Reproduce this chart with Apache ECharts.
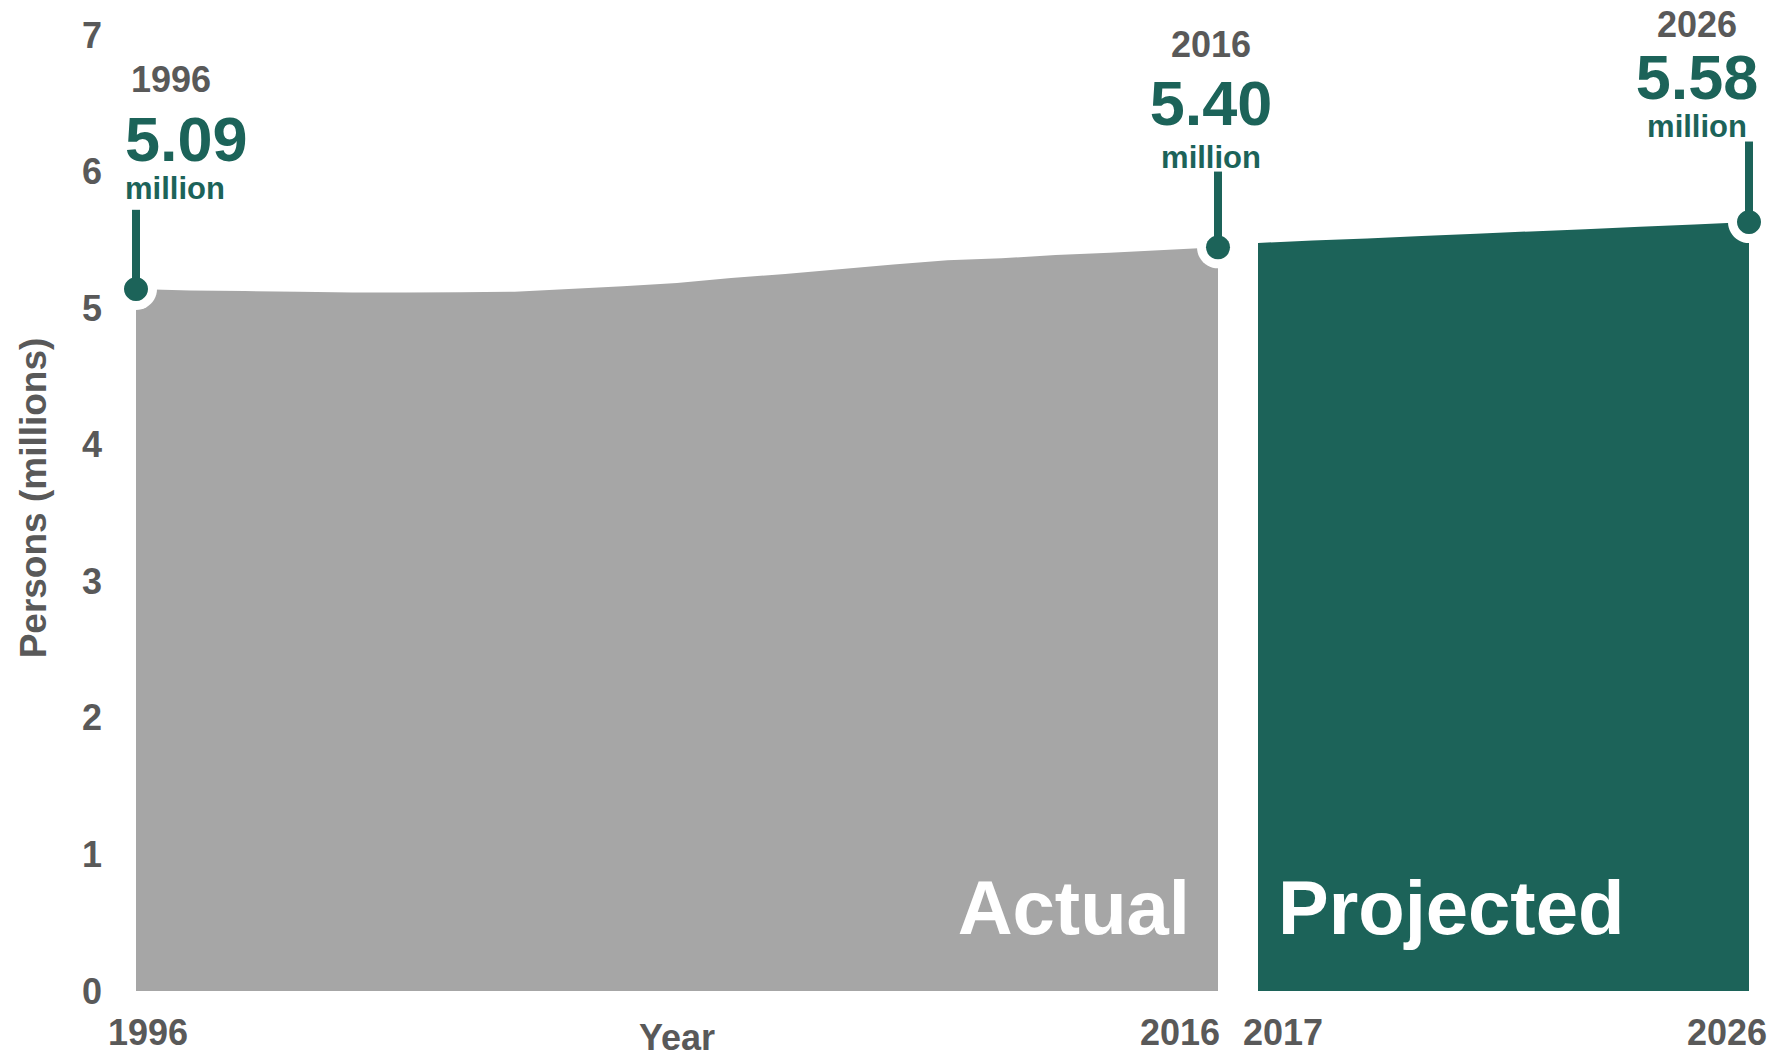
<!DOCTYPE html>
<html>
<head>
<meta charset="utf-8">
<script src="https://cdn.jsdelivr.net/npm/echarts@6/dist/echarts.min.js"></script>
<style>
html,body{margin:0;padding:0;background:#fff;}
#c{width:1788px;height:1058px;}
</style>
</head>
<body>
<div id="c"></div>
<script>
// ---- data ----
const actualYears = [1996,1997,1998,1999,2000,2001,2002,2003,2004,2005,2006,2007,2008,2009,2010,2011,2012,2013,2014,2015,2016];
const actualValues = [5.14,5.13,5.125,5.12,5.115,5.115,5.117,5.12,5.14,5.16,5.185,5.22,5.25,5.285,5.32,5.35,5.365,5.39,5.405,5.425,5.445];
const projYears = [2017,2018,2019,2020,2021,2022,2023,2024,2025,2026];
const projValues = [5.477,5.495,5.51,5.528,5.545,5.562,5.578,5.596,5.612,5.63];
const yTickValues = [0,1,2,3,4,5,6,7];
const actualTickLabels = [1996, 2016];
const projTickLabels = [2017, 2026];
const calloutYears = ['1996','2016','2026'];
const calloutValues = ['5.09','5.40','5.58'];
const calloutUnit = 'million';
const sectionLabels = ['Actual','Projected'];
const axisTitles = {y:'Persons (millions)', x:'Year'};

const GREY = '#a6a6a6';
const GREEN = '#1c6359';
const TEXT = '#595959';
const FONT = '"Liberation Sans", Arial, sans-serif';

const chart = echarts.init(document.getElementById('c'), null, {renderer:'svg'});

function calloutRich(l1, l2, l3, align, pad) {
  return {
    y:{fontFamily:FONT,fontSize:36,fontWeight:'bold',color:TEXT,lineHeight:l1,align:align,padding:[0,0,0,pad||0]},
    v:{fontFamily:FONT,fontSize:63,fontWeight:'bold',color:GREEN,lineHeight:l2,align:align},
    m:{fontFamily:FONT,fontSize:31,fontWeight:'bold',color:GREEN,lineHeight:l3,align:align}
  };
}
function calloutText(i){ return '{y|'+calloutYears[i]+'}\n{v|'+calloutValues[i]+'}\n{m|'+calloutUnit+'}'; }

const lastA = actualValues.length-1, lastP = projValues.length-1;
const tickFont = {fontFamily:FONT,fontSize:36,fontWeight:'bold',color:TEXT};

const option = {
  animation:false,
  backgroundColor:'#fff',
  grid:[
    {left:136, top:35, width:1082, bottom:67, outerBoundsMode:'none', containLabel:false},
    {left:1258, top:35, width:491, bottom:67, outerBoundsMode:'none', containLabel:false}
  ],
  xAxis:[
    {type:'value', gridIndex:0, min:actualYears[0], max:actualYears[lastA],
     axisLine:{show:false}, axisTick:{show:false}, splitLine:{show:false},
     name:axisTitles.x, nameLocation:'middle', nameGap:28, nameMoveOverlap:false,
     nameTextStyle:tickFont,
     axisLabel:{customValues:actualTickLabels, margin:23, showMinLabel:true, showMaxLabel:true,
       formatter:function(v){ return v===actualTickLabels[0] ? '{l|'+v+'}' : '{r|'+v+'}'; },
       rich:{
         l:Object.assign({padding:[0,0,0,24]}, tickFont),
         r:Object.assign({padding:[0,76,0,0]}, tickFont)
       }}
    },
    {type:'value', gridIndex:1, min:projYears[0], max:projYears[lastP],
     axisLine:{show:false}, axisTick:{show:false}, splitLine:{show:false},
     axisLabel:{customValues:projTickLabels, margin:23, showMinLabel:true, showMaxLabel:true,
       formatter:function(v){ return v===projTickLabels[0] ? '{l|'+v+'}' : '{r|'+v+'}'; },
       rich:{
         l:Object.assign({padding:[0,0,0,50]}, tickFont),
         r:Object.assign({padding:[0,44,0,0]}, tickFont)
       }}
    }
  ],
  yAxis:[
    {type:'value', gridIndex:0, min:yTickValues[0], max:yTickValues[yTickValues.length-1], interval:1,
     axisLine:{show:false}, axisTick:{show:false}, splitLine:{show:false},
     axisLabel:Object.assign({margin:34}, tickFont),
     name:axisTitles.y, nameLocation:'middle', nameRotate:90, nameGap:84, nameMoveOverlap:false,
     nameTextStyle:{fontFamily:FONT,fontSize:37,fontWeight:'bold',color:TEXT,padding:[0,0,0,30]}
    },
    {type:'value', gridIndex:1, min:0, max:7, interval:1, show:false}
  ],
  series:[
    {type:'line', xAxisIndex:0, yAxisIndex:0, z:2, silent:true, showSymbol:false, symbol:'none',
     data:actualYears.map((y,i)=>[y, actualValues[i]]),
     lineStyle:{width:0}, areaStyle:{color:GREY, opacity:1}},
    {type:'line', xAxisIndex:1, yAxisIndex:1, z:2, silent:true, showSymbol:false, symbol:'none',
     data:projYears.map((y,i)=>[y, projValues[i]]),
     lineStyle:{width:0}, areaStyle:{color:GREEN, opacity:1}},
    {type:'scatter', xAxisIndex:0, yAxisIndex:0, z:3, silent:true, symbol:'circle', symbolSize:42,
     itemStyle:{color:'#fff', opacity:1},
     data:[[actualYears[0], actualValues[0]],[actualYears[lastA], actualValues[lastA]]]},
    {type:'scatter', xAxisIndex:1, yAxisIndex:1, z:3, silent:true, symbol:'circle', symbolSize:42,
     itemStyle:{color:'#fff', opacity:1},
     data:[[projYears[lastP], projValues[lastP]]]},
    {type:'scatter', xAxisIndex:0, yAxisIndex:0, z:5, silent:true, symbol:'circle', symbolSize:24,
     itemStyle:{color:GREEN, opacity:1},
     data:[
       {value:[actualYears[0], actualValues[0]],
        label:{show:true, opacity:1, position:'inside', align:'left', verticalAlign:'bottom', offset:[-11,-84],
               formatter:calloutText(0), rich:calloutRich(56,64,34,'left',6)}},
       {value:[actualYears[lastA], actualValues[lastA]],
        label:{show:true, opacity:1, position:'inside', align:'center', verticalAlign:'bottom', offset:[-7,-68],
               formatter:calloutText(1), rich:calloutRich(54,64,44,'center',0)}}
     ],
     markLine:{silent:true, symbol:['none','none'], animation:false, label:{show:false},
       lineStyle:{color:GREEN, width:8, type:'solid', opacity:1},
       data:[
         [{coord:[actualYears[0], actualValues[0]]},{coord:[actualYears[0], 5.72]}],
         [{coord:[actualYears[lastA], actualValues[lastA]]},{coord:[actualYears[lastA], 6.0]}]
       ]}
    },
    {type:'scatter', xAxisIndex:1, yAxisIndex:1, z:5, silent:true, symbol:'circle', symbolSize:24,
     itemStyle:{color:GREEN, opacity:1},
     data:[
       {value:[projYears[lastP], projValues[lastP]],
        label:{show:true, opacity:1, position:'inside', align:'center', verticalAlign:'bottom', offset:[-52,-79],
               formatter:calloutText(2), rich:calloutRich(42,64,34,'center',0)}}
     ],
     markLine:{silent:true, symbol:['none','none'], animation:false, label:{show:false},
       lineStyle:{color:GREEN, width:8, type:'solid', opacity:1},
       data:[
         [{coord:[projYears[lastP], projValues[lastP]]},{coord:[projYears[lastP], 6.22]}]
       ]}
    }
  ],
  graphic:[
    {type:'text', x:1190, y:907, z:10, silent:true,
     style:{text:sectionLabels[0], fill:'#fff', font:'bold 76px '+FONT, textAlign:'right', textVerticalAlign:'middle'}},
    {type:'text', x:1278, y:907, z:10, silent:true,
     style:{text:sectionLabels[1], fill:'#fff', font:'bold 76px '+FONT, textAlign:'left', textVerticalAlign:'middle'}}
  ]
};
chart.setOption(option);
</script>
</body>
</html>
